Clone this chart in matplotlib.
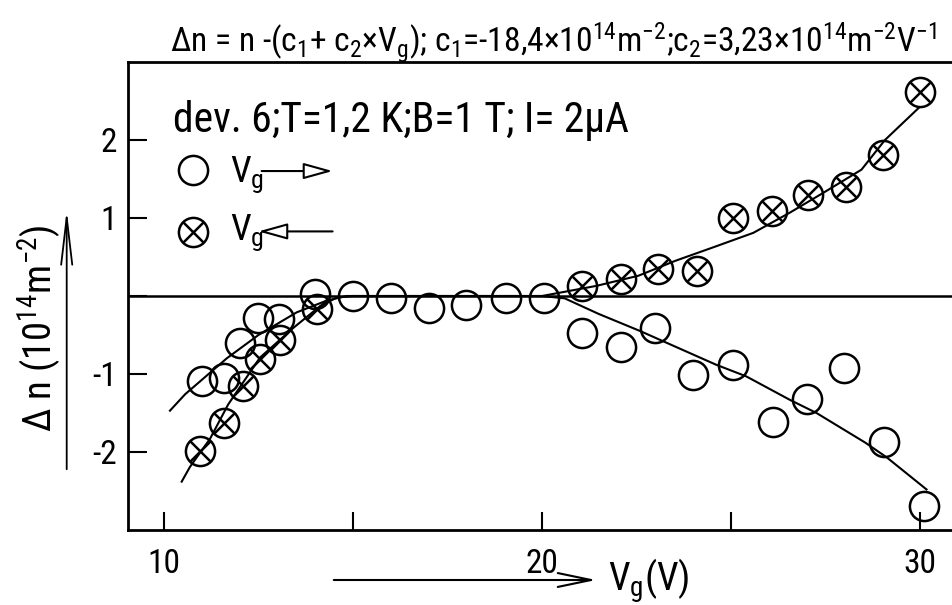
import matplotlib
matplotlib.use("Agg")
import matplotlib.pyplot as plt
from matplotlib import font_manager
from matplotlib.patches import FancyArrowPatch
from matplotlib.ticker import FixedLocator, FixedFormatter

# ---- data -------------------------------------------------------------
# gate voltage swept upward (open circles)
vg_up = [11.0, 11.6, 12.0, 12.5, 13.05, 14.0, 15.0, 16.0, 17.0, 18.0, 19.05,
         20.05, 21.05, 22.1, 23.0, 24.0, 25.05, 26.1, 27.0, 28.0, 29.05, 30.1]
dn_up = [-1.09, -1.05, -0.60, -0.28, -0.30, 0.02, 0.0, -0.02, -0.15, -0.11,
         -0.02, -0.02, -0.47, -0.65, -0.41, -1.01, -0.89, -1.61, -1.32, -0.92,
         -1.87, -2.69]

# gate voltage swept downward (crossed circles)
vg_down = [10.95, 11.6, 12.1, 12.55, 13.07, 14.04, 21.05, 22.1, 23.08, 24.09,
           25.06, 26.07, 27.03, 28.05, 29.02, 30.0]
dn_down = [-1.99, -1.63, -1.16, -0.81, -0.56, -0.17, 0.13, 0.22, 0.34, 0.32,
           1.00, 1.09, 1.29, 1.40, 1.81, 2.61]

# hand-drawn guide curves
guide_up_v = [10.16, 10.56, 11.66, 12.5, 13.51, 14.3, 14.83, 20.0, 20.6, 21.5,
              22.6, 23.25, 24.6, 25.4, 26.55, 27.26, 28.55, 29.12, 30.17]
guide_up_dn = [-1.47, -1.26, -0.80, -0.50, -0.21, -0.06, 0.0, 0.0, -0.03,
               -0.23, -0.45, -0.59, -0.88, -1.03, -1.33, -1.50, -1.88, -2.07,
               -2.48]
guide_down_v = [10.47, 10.69, 11.22, 11.7, 12.54, 13.42, 14.13, 14.57, 15.0,
                20.0, 21.44, 22.55, 23.52, 24.62, 25.59, 26.56, 27.43, 28.45,
                29.07, 29.96]
guide_down_dn = [-2.38, -2.19, -1.83, -1.39, -0.79, -0.41, -0.13, -0.02, 0.0,
                 0.0, 0.13, 0.26, 0.45, 0.64, 0.81, 1.07, 1.32, 1.62, 2.0,
                 2.41]

x_ticks = [10, 15, 20, 25, 30]
x_ticklabels = ["10", "", "20", "", "30"]
y_ticks = [-2, -1, 0, 1, 2]
y_ticklabels = ["-2", "-1", "", "1", "2"]

# ---- fonts: prefer a narrow sans face ---------------------------------
faces = font_manager.fontManager.ttflist
names = {f.name for f in faces}
FONT, STRETCH = "Liberation Sans", "normal"
for cand in ("Roboto Condensed", "Open Sans Condensed", "Liberation Sans Narrow"):
    if cand in names:
        FONT = cand
        break
else:
    if any(f.name == "DejaVu Sans" and f.stretch == "condensed" for f in faces):
        FONT, STRETCH = "DejaVu Sans", "condensed"

plt.rcParams["font.family"] = [FONT, "DejaVu Sans"]
plt.rcParams["font.stretch"] = STRETCH
plt.rcParams["mathtext.fontset"] = "custom"
pattern = FONT if STRETCH == "normal" else FONT + ":stretch=condensed"
for key in ("rm", "it", "bf", "sf"):
    plt.rcParams["mathtext." + key] = pattern

# ---- figure -----------------------------------------------------------
W, H = 953, 605
fig = plt.figure(figsize=(W / 100, H / 100), dpi=100)
ax = fig.add_axes([128 / W, (H - 530) / H, (W - 128) / W, (530 - 62) / H])
ax.set_xlim(9.05, 30.87)
ax.set_ylim(-3.0, 3.0)

for side in ("left", "top", "bottom"):
    ax.spines[side].set_linewidth(2.0)
ax.spines["right"].set_visible(False)

ax.axhline(0, color="k", lw=1.8, zorder=1)

LW = 1.5
MS = 21
MEW = 1.8
ax.plot(guide_up_v, guide_up_dn, color="k", lw=LW, zorder=2)
ax.plot(guide_down_v, guide_down_dn, color="k", lw=LW, zorder=2)

ax.plot(vg_up, dn_up, ls="none", marker="o", ms=MS, mfc="none", mec="k",
        mew=MEW, zorder=3)
ax.plot(vg_down, dn_down, ls="none", marker="o", ms=MS, mfc="none", mec="k",
        mew=MEW, zorder=3)
ax.plot(vg_down, dn_down, ls="none", marker="x", ms=MS * 0.7, mec="k",
        mew=MEW, zorder=3)

ax.xaxis.set_major_locator(FixedLocator(x_ticks))
ax.xaxis.set_major_formatter(FixedFormatter(x_ticklabels))
ax.yaxis.set_major_locator(FixedLocator(y_ticks))
ax.yaxis.set_major_formatter(FixedFormatter(y_ticklabels))
ax.tick_params(axis="x", direction="in", length=13, width=1.5, pad=13,
               labelsize=24)
ax.tick_params(axis="y", direction="in", length=14, width=1.5, pad=8,
               labelsize=24)

# legend drawn by hand, with sweep-direction arrows
ax.plot([0.079], [0.769], transform=ax.transAxes, marker="o", ms=MS,
        mfc="none", mec="k", mew=MEW, clip_on=False)
ax.plot([0.079], [0.637], transform=ax.transAxes, marker="o", ms=MS,
        mfc="none", mec="k", mew=MEW, clip_on=False)
ax.plot([0.079], [0.637], transform=ax.transAxes, marker="x", ms=MS * 0.7,
        mec="k", mew=MEW, clip_on=False)
leg1 = ax.text(0.1236, 0.744, r"$V_g$", transform=ax.transAxes, fontsize=25,
               va="baseline", ha="left")
leg2 = ax.text(0.1236, 0.620, r"$V_g$", transform=ax.transAxes, fontsize=25,
               va="baseline", ha="left")
arrow_kw = dict(arrowstyle="-|>,head_length=0.9,head_width=0.25",
                fc="white", ec="k", lw=1.5, shrinkA=0, shrinkB=0,
                mutation_scale=20)
ax.annotate("", xy=(0.248, 0.767), xytext=(0.162, 0.767),
            xycoords="axes fraction", arrowprops=arrow_kw)
ax.annotate("", xy=(0.158, 0.638), xytext=(0.248, 0.638),
            xycoords="axes fraction", arrowprops=arrow_kw)

info = ax.text(0.0545, 0.851, "dev. 6;T=1,2 K;B=1 T; I= 2μA",
               transform=ax.transAxes, fontsize=25, va="baseline", ha="left")

# formula above the frame (plain text, math only for sub/superscripts)
title = fig.text(170 / W, 1 - 52 / H,
                 "Δn = n -(c$_1$+ c$_2$×V$_g$); c$_1$=-18,4×10$^{14}$m$^{-2}$;"
                 "c$_2$=3,23×10$^{14}$m$^{-2}$V$^{-1}$",
                 fontsize=21, ha="left", va="baseline")

# axis labels with arrows
ylab = fig.text(40 / W, 1 - 328 / H, "Δ n (10$^{14}$m$^{-2}$)",
                rotation=90, fontsize=23, ha="center", va="center")
fig.add_artist(FancyArrowPatch(
    (66.7 / W, 1 - 472 / H), (66.7 / W, 1 - 207 / H),
    transform=fig.transFigure, arrowstyle="->,head_length=1.7,head_width=0.2",
    mutation_scale=20, lw=1.3, color="k"))

xlab = fig.text(608 / W, 1 - 591 / H, "V$_g$(V)", fontsize=25, ha="left",
                va="baseline")
fig.add_artist(FancyArrowPatch(
    (331 / W, 1 - 580 / H), (599 / W, 1 - 580 / H),
    transform=fig.transFigure, arrowstyle="->,head_length=1.2,head_width=0.25",
    mutation_scale=20, lw=1.5, color="k"))

# scale each free text so that it spans the intended number of pixels
renderer = fig.canvas.get_renderer()
for txt, span, along in ((title, 766, "w"), (info, 459, "w"), (ylab, 208, "h"),
                         (xlab, 82, "w"), (leg1, 34, "w"), (leg2, 34, "w")):
    bb = txt.get_window_extent(renderer)
    cur = bb.width if along == "w" else bb.height
    txt.set_fontsize(min(txt.get_fontsize() * span / cur, 30))

fig.savefig("out.png", dpi=100)
